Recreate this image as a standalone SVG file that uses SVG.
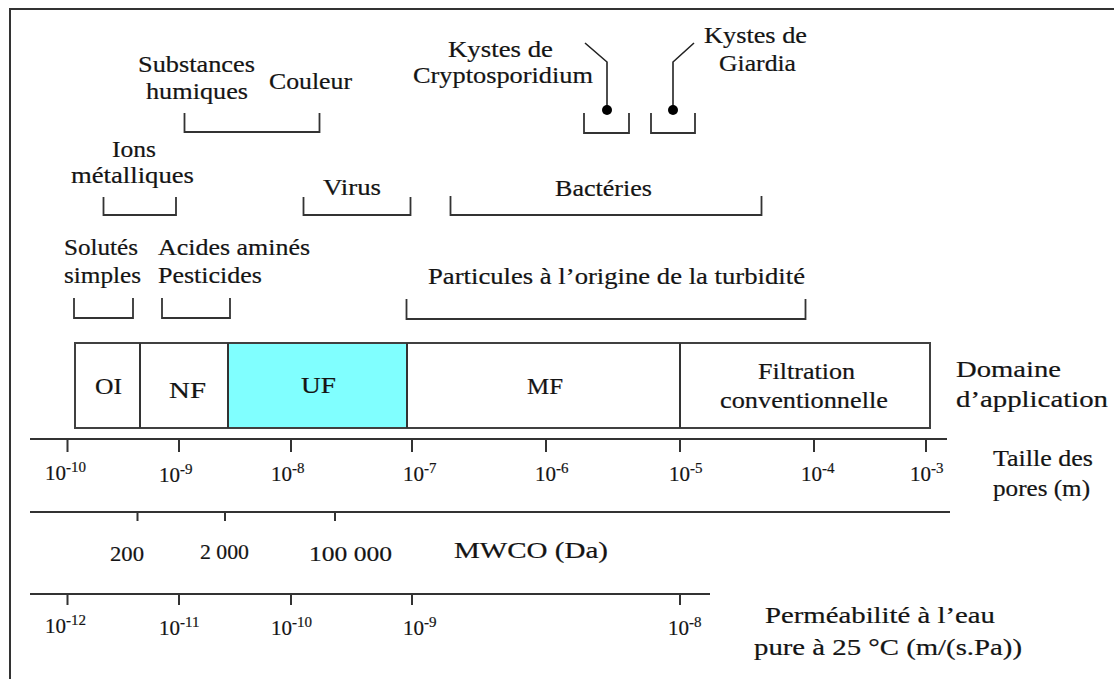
<svg xmlns="http://www.w3.org/2000/svg" width="1114" height="679" viewBox="0 0 1114 679">
<style>
  text { font-family: "Liberation Serif", "DejaVu Serif", serif; font-size: 23px; fill: #141414; stroke: #141414; stroke-width: 0.2px; }
  .br { fill: none; stroke: #333; stroke-width: 1.8; }
  .ax { fill: none; stroke: #333; stroke-width: 2; }
  .tk { stroke: #333; stroke-width: 2; }
  .box { fill: #fff; stroke: #404040; stroke-width: 2; }
  .n { font-size: 21px; }
  .sup { font-size: 15px; }
  .lead { fill: none; stroke: #222; stroke-width: 1.6; }
</style>
<defs>
  <marker id="dot" markerWidth="12" markerHeight="12" refX="6" refY="6" markerUnits="userSpaceOnUse">
    <circle cx="6" cy="6" r="5" fill="#000"/>
  </marker>
</defs>
<rect width="1114" height="679" fill="#fff"/>
<!-- outer frame -->
<path d="M10,679 V9 H1114" fill="none" stroke="#333" stroke-width="2"/>

<g font-family="Liberation Serif, DejaVu Serif, serif">
<!-- particle classes -->
<g id="substances-humiques">
  <text x="138" y="72" textLength="117" lengthAdjust="spacingAndGlyphs">Substances</text>
  <text x="146" y="99" textLength="102" lengthAdjust="spacingAndGlyphs">humiques</text>
</g>
<g id="couleur">
  <text x="269" y="89" textLength="83" lengthAdjust="spacingAndGlyphs">Couleur</text>
</g>
<g id="cryptosporidium">
  <text x="448" y="57" textLength="105" lengthAdjust="spacingAndGlyphs">Kystes de</text>
  <text x="413" y="83" textLength="180" lengthAdjust="spacingAndGlyphs">Cryptosporidium</text>
</g>
<g id="giardia">
  <text x="704" y="43" textLength="103" lengthAdjust="spacingAndGlyphs">Kystes de</text>
  <text x="719" y="71" textLength="77" lengthAdjust="spacingAndGlyphs">Giardia</text>
</g>
<g id="ions">
  <text x="112" y="157" textLength="44" lengthAdjust="spacingAndGlyphs">Ions</text>
  <text x="71" y="183" textLength="123" lengthAdjust="spacingAndGlyphs">métalliques</text>
</g>
<g id="virus">
  <text x="323" y="195" textLength="58" lengthAdjust="spacingAndGlyphs">Virus</text>
</g>
<g id="bacteries">
  <text x="555" y="196" textLength="97" lengthAdjust="spacingAndGlyphs">Bactéries</text>
</g>
<g id="solutes">
  <text x="64" y="255" textLength="74" lengthAdjust="spacingAndGlyphs">Solutés</text>
  <text x="64" y="283" textLength="77" lengthAdjust="spacingAndGlyphs">simples</text>
</g>
<g id="acides-pesticides">
  <text x="158" y="255" textLength="152" lengthAdjust="spacingAndGlyphs">Acides aminés</text>
  <text x="158" y="283" textLength="104" lengthAdjust="spacingAndGlyphs">Pesticides</text>
</g>
<g id="particules">
  <text x="428" y="284" textLength="377" lengthAdjust="spacingAndGlyphs">Particules à l’origine de la turbidité</text>
</g>
</g>

<!-- connectors: range brackets and leaders -->
<g id="connectors">
  <path class="br" d="M184.5,113 V132 H319.5 V113"/>
  <path class="br" d="M584,113 V133 H629 V113"/>
  <path class="br" d="M651,113 V133 H695 V113"/>
  <path class="br" d="M103.5,197 V215 H176 V197"/>
  <path class="br" d="M303.5,197 V215 H410.5 V197"/>
  <path class="br" d="M450.5,196 V215 H761.5 V196"/>
  <path class="br" d="M74,298 V318 H133 V298"/>
  <path class="br" d="M162,298 V318 H230 V298"/>
  <path class="br" d="M406.5,299 V319 H805.5 V299"/>
  <path class="lead" d="M585,43 L607,62 V110" marker-end="url(#dot)"/>
  <path class="lead" d="M694,43 L673,62 V110" marker-end="url(#dot)"/>
</g>

<!-- application domain -->
<g id="domaines">
  <rect class="box" x="75" y="343" width="855" height="85"/>
  <rect x="229" y="344" width="177" height="83" fill="#80ffff"/>
  <line class="tk" x1="140" y1="343" x2="140" y2="428"/>
  <line class="tk" x1="228" y1="343" x2="228" y2="428"/>
  <line class="tk" x1="407" y1="343" x2="407" y2="428"/>
  <line class="tk" x1="680" y1="343" x2="680" y2="428"/>
</g>
<g font-family="Liberation Serif, DejaVu Serif, serif">
<g id="oi"><text x="95" y="394" textLength="27" lengthAdjust="spacingAndGlyphs">OI</text></g>
<g id="nf"><text x="169" y="398" textLength="37" lengthAdjust="spacingAndGlyphs">NF</text></g>
<g id="uf"><text x="301" y="393" textLength="35" lengthAdjust="spacingAndGlyphs">UF</text></g>
<g id="mf"><text x="527" y="394" textLength="36" lengthAdjust="spacingAndGlyphs">MF</text></g>
<g id="filtration">
  <text x="758" y="379" textLength="97" lengthAdjust="spacingAndGlyphs">Filtration</text>
  <text x="720" y="408" textLength="168" lengthAdjust="spacingAndGlyphs">conventionnelle</text>
</g>
<g id="domaine-label">
  <text x="956" y="377" textLength="105" lengthAdjust="spacingAndGlyphs">Domaine</text>
  <text x="956" y="407" textLength="152" lengthAdjust="spacingAndGlyphs">d’application</text>
</g>
</g>

<!-- pore size axis -->
<g id="axe-taille" font-family="Liberation Serif, DejaVu Serif, serif">
  <line class="ax" x1="30" y1="439" x2="947" y2="439"/>
  <path class="tk" d="M67.5,439V452 M179,439V452 M291,439V452 M412,439V452 M546,439V452 M680,439V452 M814,439V452 M926,439V452"/>
  <text class="n" x="45" y="480">10<tspan class="sup" dy="-8">-10</tspan></text>
  <text class="n" x="159" y="482">10<tspan class="sup" dy="-8">-9</tspan></text>
  <text class="n" x="271" y="481">10<tspan class="sup" dy="-8">-8</tspan></text>
  <text class="n" x="403" y="481">10<tspan class="sup" dy="-8">-7</tspan></text>
  <text class="n" x="535" y="481">10<tspan class="sup" dy="-8">-6</tspan></text>
  <text class="n" x="669" y="481">10<tspan class="sup" dy="-8">-5</tspan></text>
  <text class="n" x="801" y="481">10<tspan class="sup" dy="-8">-4</tspan></text>
  <text class="n" x="910" y="481">10<tspan class="sup" dy="-8">-3</tspan></text>
  <text x="993" y="466" textLength="100" lengthAdjust="spacingAndGlyphs">Taille des</text>
  <text x="993" y="496" textLength="97" lengthAdjust="spacingAndGlyphs">pores (m)</text>
</g>

<!-- MWCO axis -->
<g id="axe-mwco" font-family="Liberation Serif, DejaVu Serif, serif">
  <line class="ax" x1="30" y1="512" x2="950" y2="512"/>
  <path class="tk" d="M137.5,512V521 M225,512V521 M335,512V521"/>
  <text class="n" x="110" y="561" textLength="34" lengthAdjust="spacingAndGlyphs">200</text>
  <text class="n" x="200" y="559" textLength="49" lengthAdjust="spacingAndGlyphs">2 000</text>
  <text class="n" x="309" y="561" textLength="83" lengthAdjust="spacingAndGlyphs">100  000</text>
  <text x="454" y="558" textLength="154" lengthAdjust="spacingAndGlyphs">MWCO (Da)</text>
</g>

<!-- permeability axis -->
<g id="axe-permeabilite" font-family="Liberation Serif, DejaVu Serif, serif">
  <line class="ax" x1="30" y1="594" x2="710" y2="594"/>
  <path class="tk" d="M67.5,594V605 M179,594V605 M291,594V605 M412,594V605 M680,594V605"/>
  <text class="n" x="45" y="633">10<tspan class="sup" dy="-8">-12</tspan></text>
  <text class="n" x="159" y="635">10<tspan class="sup" dy="-8">-11</tspan></text>
  <text class="n" x="271" y="635">10<tspan class="sup" dy="-8">-10</tspan></text>
  <text class="n" x="403" y="635">10<tspan class="sup" dy="-8">-9</tspan></text>
  <text class="n" x="668" y="635">10<tspan class="sup" dy="-8">-8</tspan></text>
  <text x="765" y="623" textLength="230" lengthAdjust="spacingAndGlyphs">Perméabilité à l’eau</text>
  <text x="754" y="655" textLength="268" lengthAdjust="spacingAndGlyphs">pure à 25 °C  (m/(s.Pa))</text>
</g>
</svg>
